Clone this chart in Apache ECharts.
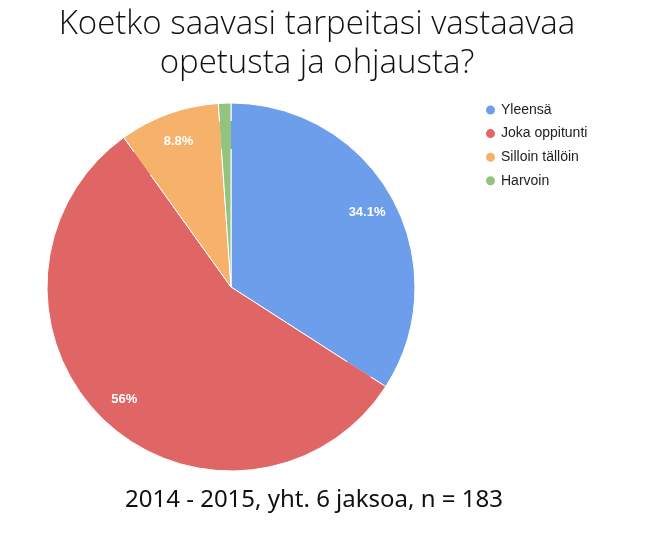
<!DOCTYPE html>
<html><head><meta charset="utf-8">
<script src="https://cdn.jsdelivr.net/npm/echarts@6/dist/echarts.min.js"></script>
<style>html,body{margin:0;padding:0;background:#fff}#c{width:652px;height:555px}</style>
</head><body><div id="c"></div>
<script>
const categories = ['Yleensä', 'Joka oppitunti', 'Silloin tällöin', 'Harvoin'];
const values = [34.1, 56, 8.8, 1.1];
const colors = ['#6d9eeb', '#e06666', '#f6b26b', '#93c47d'];
const titleText = 'Koetko saavasi tarpeitasi vastaavaa\nopetusta ja ohjausta?';
const subtitleText = '2014 - 2015, yht. 6 jaksoa, n = 183';

const data = categories.map((n, i) => ({ name: n, value: values[i], itemStyle: { color: colors[i] } }));
const chart = echarts.init(document.getElementById('c'));
chart.setOption({
  animation: false,
  title: [{
    text: titleText, left: 312, top: 0, textAlign: 'center',
    textStyle: { fontFamily: 'Open Sans', fontWeight: 300, fontSize: 33, lineHeight: 39, color: '#111' }
  }, {
    text: subtitleText, left: 309, top: 483, textAlign: 'center',
    textStyle: { fontFamily: 'Noto Sans', fontWeight: 'normal', fontSize: 24, color: '#111' }
  }],
  legend: {
    orient: 'vertical', left: 479, top: 98, icon: 'circle', itemWidth: 11, itemHeight: 11, itemGap: 9.6,
    textStyle: { fontFamily: 'Liberation Sans', fontSize: 14, color: '#222' },
    data: categories
  },
  series: [{
    type: 'pie', center: [231, 287], radius: 184, startAngle: 90, clockwise: true,
    data: data, label: { show: false }, labelLine: { show: false },
    itemStyle: { borderColor: '#fff', borderWidth: 1 }, silent: true
  }, {
    type: 'pie', center: [231, 287], radius: [138, 166], startAngle: 90, clockwise: true,
    data: data, minShowLabelAngle: 5, silent: true,
    itemStyle: { color: 'rgba(0,0,0,0)', borderWidth: 0 },
    label: { show: true, position: 'inside', formatter: p => p.value + '%', color: '#fff',
      fontFamily: 'Liberation Sans', fontWeight: 'bold', fontSize: 13 },
    labelLine: { show: false }, legendHoverLink: false
  }]
});
</script></body></html>
